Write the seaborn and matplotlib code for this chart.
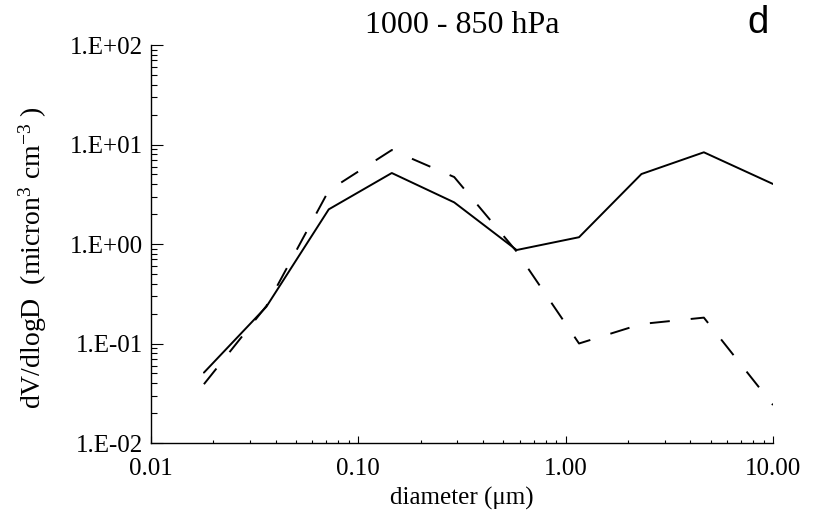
import matplotlib
matplotlib.use("Agg")
import matplotlib.pyplot as plt
import matplotlib.ticker as mticker
import seaborn as sns
import pandas as pd

# ---- data ----
diameter = [0.018, 0.036, 0.072, 0.145, 0.29, 0.58, 1.16, 2.32, 4.64, 10.0]
solid_vals = [0.051, 0.234, 2.23, 5.17, 2.62, 0.87, 1.17, 5.05, 8.35, 4.01]
dashed_vals = [0.039, 0.238, 3.45, 8.8, 4.71, 0.84, 0.100, 0.157, 0.182, 0.0241]
series_names = ["solid", "dashed"]
x_ticks = [0.01, 0.1, 1.0, 10.0]
x_ticklabels = ["0.01", "0.10", "1.00", "10.00"]
y_ticks = [0.01, 0.1, 1.0, 10.0, 100.0]
y_ticklabels = ["1.E-02", "1.E-01", "1.E+00", "1.E+01", "1.E+02"]
title = "1000 - 850 hPa"
panel_letter = "d"

df = pd.DataFrame({
    "diameter": diameter * 2,
    "dvdlogd": solid_vals + dashed_vals,
    "series": [series_names[0]] * len(diameter) + [series_names[1]] * len(diameter),
})

sns.set_style("ticks")
plt.rcParams["font.family"] = ["Liberation Serif", "DejaVu Serif"]
plt.rcParams["mathtext.fontset"] = "custom"
plt.rcParams["mathtext.rm"] = "Liberation Serif"
plt.rcParams["mathtext.it"] = "Liberation Serif:italic"
plt.rcParams["mathtext.bf"] = "Liberation Serif:bold"

W, H = 815, 511
fig = plt.figure(figsize=(W / 100, H / 100), dpi=100)
L, R, T, B = 151, 773, 45, 443
ax = fig.add_axes([L / W, (H - B) / H, (R - L) / W, (B - T) / H])

lw = 1.4
sns.lineplot(data=df, x="diameter", y="dvdlogd", style="series",
             dashes={"solid": "", "dashed": (10.3, 10.8)},
             color="black", linewidth=lw, legend=False, ax=ax, sort=False)

ax.set_xscale("log")
ax.set_yscale("log")
ax.set_xlim(0.01, 10.0)
ax.set_ylim(0.01, 100.0)

ax.xaxis.set_major_locator(mticker.FixedLocator(x_ticks))
ax.xaxis.set_major_formatter(mticker.FixedFormatter(x_ticklabels))
ax.yaxis.set_major_locator(mticker.FixedLocator(y_ticks))
ax.yaxis.set_major_formatter(mticker.FixedFormatter(y_ticklabels))
ax.xaxis.set_minor_locator(mticker.LogLocator(base=10, subs=range(2, 10), numticks=20))
ax.yaxis.set_minor_locator(mticker.LogLocator(base=10, subs=range(2, 10), numticks=20))
ax.xaxis.set_minor_formatter(mticker.NullFormatter())
ax.yaxis.set_minor_formatter(mticker.NullFormatter())

for s in ["top", "right"]:
    ax.spines[s].set_visible(False)
for s in ["left", "bottom"]:
    ax.spines[s].set_linewidth(1.0)
    ax.spines[s].set_color("black")

ax.tick_params(axis="y", which="major", direction="in", length=8.6, width=0.8,
               labelsize=18, pad=5.5, colors="black")
ax.tick_params(axis="y", which="minor", direction="in", length=4.3, width=0.8, colors="black")
ax.tick_params(axis="x", which="major", direction="in", length=5.0, width=0.8,
               labelsize=18, pad=11, colors="black")
ax.tick_params(axis="x", which="minor", direction="in", length=2.5, width=0.8, colors="black")

ax.set_xlabel("diameter (\u03bcm)", fontsize=18, color="black")
ax.xaxis.set_label_coords(0.5, -(487 - B) / (B - T))
ax.set_ylabel("dV/dlogD  (micron$^{3}$ cm$^{-3}$ )", fontsize=20, color="black",
              va="center", ha="center")
ax.yaxis.set_label_coords((33 - L) / (R - L), (B - 258) / (B - T))

fig.text(462 / W, 1 - 33 / H, title, ha="center", va="baseline", fontsize=23,
         color="black")
fig.text(758 / W, 1 - 33 / H, panel_letter, ha="center", va="baseline", fontsize=27.5,
         family=["Liberation Sans", "DejaVu Sans"], color="black")

fig.savefig("out.png", dpi=100, facecolor="white")
